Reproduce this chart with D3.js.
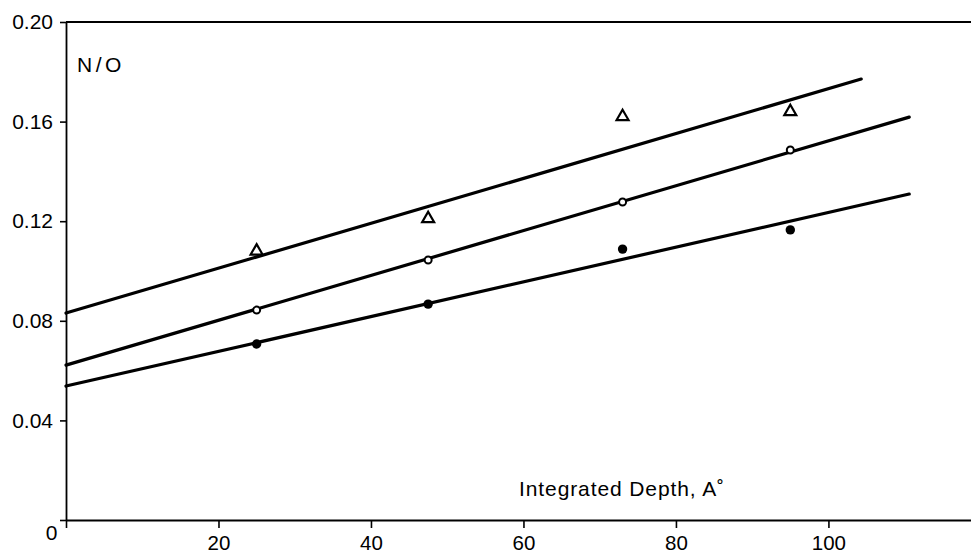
<!DOCTYPE html>
<html>
<head>
<meta charset="utf-8">
<script src="https://cdn.jsdelivr.net/npm/d3@7"></script>
<style>
  html, body { margin: 0; padding: 0; background: #fff; }
  svg { display: block; }
  text { font-family: "Liberation Sans", Arial, Helvetica, sans-serif; fill: #000; }
</style>
</head>
<body>
<svg id="chart" width="971" height="553"></svg>
<script>
// ---- data ----
const xTicks = [0, 20, 40, 60, 80, 100];
const yTicks = [0, 0.04, 0.08, 0.12, 0.16, 0.20];
const depths = [25, 47.5, 73, 95];
const triangleValues = [0.108, 0.121, 0.162, 0.164];
const openCircleValues = [0.0843, 0.1044, 0.1277, 0.1486];
const filledCircleValues = [0.0707, 0.0867, 0.1088, 0.1165];
// fitted lines: [start depth, start N/O, end depth, end N/O]
const fitTriangle = [0, 0.0831, 104.3, 0.1771];
const fitOpen = [0, 0.0622, 110.6, 0.1618];
const fitFilled = [0, 0.0538, 110.6, 0.1309];
const yLabel = "N/O";
const xLabel = "Integrated Depth, A\u02DA";

// ---- chart ----
const svg = d3.select("#chart");
const x = d3.scaleLinear().domain([0, 118.7]).range([66, 971]);
const y = d3.scaleLinear().domain([0, 0.20]).range([520, 22]);

const axisStyle = (g, fs) => {
  g.selectAll(".domain").attr("stroke", "#000").attr("stroke-width", 1.8);
  g.selectAll(".tick line").attr("stroke", "#000").attr("stroke-width", 1.6);
  g.selectAll(".tick text").attr("font-size", fs).attr("fill", "#000")
    .attr("font-family", "'Liberation Sans', Arial, sans-serif");
};

// top border
svg.append("line")
  .attr("x1", x(0)).attr("x2", x.range()[1])
  .attr("y1", y(0.20)).attr("y2", y(0.20))
  .attr("stroke", "#000").attr("stroke-width", 1.8);

const gx = svg.append("g")
  .attr("transform", `translate(0,${y(0)})`)
  .call(d3.axisBottom(x).tickValues(xTicks).tickSizeInner(8).tickSizeOuter(0).tickPadding(7).tickFormat(d3.format("d")))
  .call(g => axisStyle(g, 20.5));
gx.selectAll(".tick text").filter(d => d === 0).attr("x", -15).attr("y", 5).attr("font-size", 21);

const gy = svg.append("g")
  .attr("transform", `translate(${x(0)},0)`)
  .call(d3.axisLeft(y).tickValues(yTicks).tickSizeInner(6).tickSizeOuter(0).tickPadding(7)
    .tickFormat(d => d === 0 ? "" : d3.format(".2f")(d)))
  .call(g => axisStyle(g, 21));

// fitted lines
const line = d3.line().x(d => x(d[0])).y(d => y(d[1]));
[fitTriangle, fitOpen, fitFilled].forEach(f => {
  svg.append("path")
    .datum([[f[0], f[1]], [f[2], f[3]]])
    .attr("d", line)
    .attr("fill", "none").attr("stroke", "#000").attr("stroke-width", 3.2)
    .attr("stroke-linecap", "round");
});

// markers
const tri = d3.symbol().type(d3.symbolTriangle).size(62);
svg.append("g").selectAll("path")
  .data(depths.map((d, i) => [d, triangleValues[i]]))
  .join("path")
  .attr("d", tri)
  .attr("transform", d => `translate(${x(d[0])},${y(d[1])})`)
  .attr("fill", "#fff").attr("stroke", "#000").attr("stroke-width", 2.2);

svg.append("g").selectAll("circle")
  .data(depths.map((d, i) => [d, openCircleValues[i]]))
  .join("circle")
  .attr("cx", d => x(d[0])).attr("cy", d => y(d[1])).attr("r", 3.5)
  .attr("fill", "#fff").attr("stroke", "#000").attr("stroke-width", 2);

svg.append("g").selectAll("circle")
  .data(depths.map((d, i) => [d, filledCircleValues[i]]))
  .join("circle")
  .attr("cx", d => x(d[0])).attr("cy", d => y(d[1])).attr("r", 4.7)
  .attr("fill", "#000");

// labels
svg.append("text")
  .attr("x", 77).attr("y", 72)
  .attr("font-size", 21).attr("letter-spacing", "3.5px")
  .text(yLabel);

svg.append("text")
  .attr("x", 519).attr("y", 496)
  .attr("font-size", 21).attr("letter-spacing", "0.9px")
  .text(xLabel);
</script>
</body>
</html>
